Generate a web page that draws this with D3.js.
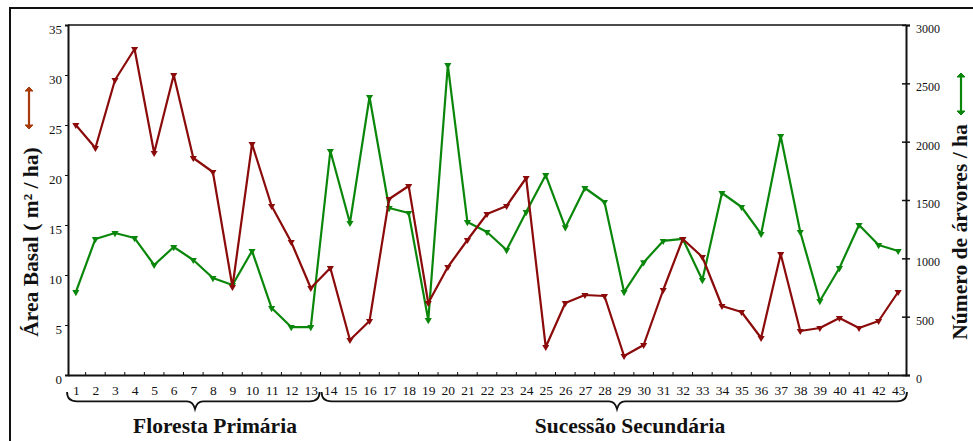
<!DOCTYPE html>
<html>
<head>
<meta charset="utf-8">
<script src="https://cdn.jsdelivr.net/npm/d3@7/dist/d3.min.js"></script>
<style>
  html, body { margin: 0; padding: 0; background: #fff; }
  svg { display: block; }
  text { font-family: "Liberation Serif", "DejaVu Serif", serif; fill: #111; }
</style>
</head>
<body>
<svg id="chart" width="973" height="441"></svg>
<script>
// Plot numbers 1..43
const plots = d3.range(1, 44);

// Basal area (m²/ha), left axis
const basalArea = [25.0, 22.7, 29.5, 32.6, 22.2, 30.0, 21.7, 20.3, 8.8, 23.1,
  16.9, 13.3, 8.7, 10.7, 3.5, 5.4, 17.6, 18.9, 7.2, 10.8,
  13.5, 16.1, 16.9, 19.7, 2.8, 7.2, 8.0, 7.9, 1.9, 3.0,
  8.5, 13.6, 11.8, 6.9, 6.3, 3.7, 12.1, 4.4, 4.7, 5.7,
  4.7, 5.4, 8.3];

// Number of trees per hectare, right axis
const treesPerHa = [711, 1166, 1217, 1174, 943, 1097, 986, 831, 771, 1063,
  574, 411, 411, 1920, 1303, 2383, 1431, 1389, 471, 2657,
  1311, 1226, 1071, 1397, 1714, 1265, 1603, 1483, 711, 965,
  1149, 1166, 814, 1560, 1440, 1209, 2049, 1226, 634, 917,
  1286, 1114, 1063];

const leftTicks = [0, 5, 10, 15, 20, 25, 30, 35];
const rightTicks = [0, 500, 1000, 1500, 2000, 2500, 3000];

// Site groups spanning plot ranges
const groups = [
  { name: "Floresta Primária", from: 1, to: 13 },
  { name: "Sucessão Secundária", from: 14, to: 43 }
];

const RED = "#8b0a0a";
const GREEN = "#0a870a";
const LEG_RED = "#a83a0c";

const svg = d3.select("#chart");
const pLeft = 68, pRight = 906, pTop = 25, pBottom = 375;

// outer frame
svg.append("rect").attr("x", 10).attr("y", 8).attr("width", 980).attr("height", 460)
  .attr("fill", "none").attr("stroke", "#111").attr("stroke-width", 2);

const x = d3.scalePoint().domain(plots).range([pLeft, pRight]).padding(0.4);
const yL = d3.scaleLinear().domain([0, 35]).range([pBottom, pTop]);
const yR = d3.scaleLinear().domain([0, 3000]).range([pBottom, pTop]);

// top edge of the plot box
svg.append("line").attr("x1", pLeft).attr("x2", pRight).attr("y1", pTop).attr("y2", pTop)
  .attr("stroke", "#111").attr("stroke-width", 1.6);

// left axis
const gL = svg.append("g").attr("transform", `translate(${pLeft},0)`)
  .call(d3.axisLeft(yL).tickValues(leftTicks).tickSize(3).tickPadding(3).tickFormat(d3.format("d")));
gL.select(".domain").attr("stroke", "#111").attr("stroke-width", 2);
gL.selectAll(".tick line").attr("stroke", "#111");
gL.selectAll(".tick text").attr("font-size", 13).attr("dy", "0.62em")
  .style("font-family", "Liberation Serif, serif").attr("fill", "#222");

// right axis
const gR = svg.append("g").attr("transform", `translate(${pRight},0)`)
  .call(d3.axisRight(yR).tickValues(rightTicks).tickSize(4).tickPadding(6).tickFormat(d3.format("d")));
gR.select(".domain").attr("stroke", "#111").attr("stroke-width", 2);
gR.selectAll(".tick line").attr("x1", -4).attr("stroke", "#111").attr("stroke-width", 1.5);
gR.selectAll(".tick text").attr("font-size", 12).attr("dy", "0.62em")
  .style("font-family", "Liberation Serif, serif").attr("fill", "#222");

// bottom axis
const gB = svg.append("g").attr("transform", `translate(0,${pBottom})`)
  .call(d3.axisBottom(x).tickSize(0).tickPadding(10));
gB.select(".domain").attr("stroke", "#111").attr("stroke-width", 2);
gB.selectAll(".tick text").attr("font-size", 13.5)
  .style("font-family", "Liberation Serif, serif").attr("fill", "#222");
// small tick marks between plots
const step = x.step();
svg.append("g").selectAll("line").data(plots.slice(0, -1)).join("line")
  .attr("x1", d => x(d) + step / 2).attr("x2", d => x(d) + step / 2)
  .attr("y1", pBottom - 3).attr("y2", pBottom)
  .attr("stroke", "#111").attr("stroke-width", 1);

// series
function drawSeries(values, scale, color, rot) {
  const pts = plots.map((p, i) => [x(p), scale(values[i])]);
  svg.append("path").attr("d", d3.line()(pts))
    .attr("fill", "none").attr("stroke", color).attr("stroke-width", 2.2)
    .attr("stroke-linejoin", "round");
  svg.append("g").selectAll("path").data(pts).join("path")
    .attr("d", d3.symbol(d3.symbolTriangle, 22))
    .attr("transform", d => `translate(${d[0]},${d[1]}) rotate(${rot})`)
    .attr("fill", color);
}
drawSeries(treesPerHa, yR, GREEN, 180);
drawSeries(basalArea, yL, RED, 180);

// axis titles
svg.append("text").attr("transform", "translate(38,242) rotate(-90)")
  .attr("text-anchor", "middle").attr("font-size", 21.5).attr("font-weight", "bold")
  .attr("fill", "#000").text("Área Basal ( m² / ha)");
svg.append("text").attr("transform", "translate(967,232) rotate(-90)")
  .attr("text-anchor", "middle").attr("font-size", 21.5).attr("font-weight", "bold")
  .attr("fill", "#000").text("Número de árvores / ha");

// series keys: double-headed vertical arrows
function keyArrow(cx, y1, y2, color) {
  const g = svg.append("g");
  g.append("line").attr("x1", cx).attr("x2", cx).attr("y1", y1 + 2).attr("y2", y2 - 2)
    .attr("stroke", color).attr("stroke-width", 2.2);
  g.append("path").attr("d", `M${cx - 4},${y1 + 4} L${cx},${y1} L${cx + 4},${y1 + 4} Z`).attr("fill", color).attr("stroke", color);
  g.append("path").attr("d", `M${cx - 4},${y2 - 4} L${cx},${y2} L${cx + 4},${y2 - 4} Z`).attr("fill", color).attr("stroke", color);
}
keyArrow(29, 87, 129, LEG_RED);
keyArrow(961, 73, 115, GREEN);

// group braces with labels
function brace(x1, x2, tip, yTop, h) {
  const yMid = yTop + h * 0.55, yTip = yTop + h;
  return `M${x1},${yTop} Q${x1},${yMid} ${x1 + 10},${yMid}` +
    ` L${tip - 8},${yMid} Q${tip - 2},${yMid} ${tip},${yTip}` +
    ` Q${tip + 2},${yMid} ${tip + 8},${yMid}` +
    ` L${x2 - 10},${yMid} Q${x2},${yMid} ${x2},${yTop}`;
}
const braceTips = [195, 617];
const labelX = [215, 630];
groups.forEach((g, i) => {
  const x1 = x(g.from) - step / 2 + 1, x2 = x(g.to) + step / 2 - 1;
  svg.append("path").attr("d", brace(x1, x2, braceTips[i], 392, 17))
    .attr("fill", "none").attr("stroke", "#111").attr("stroke-width", 1.8);
  svg.append("text").attr("x", labelX[i]).attr("y", 433)
    .attr("text-anchor", "middle").attr("font-size", 21.5).attr("font-weight", "bold")
    .attr("fill", "#000").text(g.name);
});
</script>
</body>
</html>
